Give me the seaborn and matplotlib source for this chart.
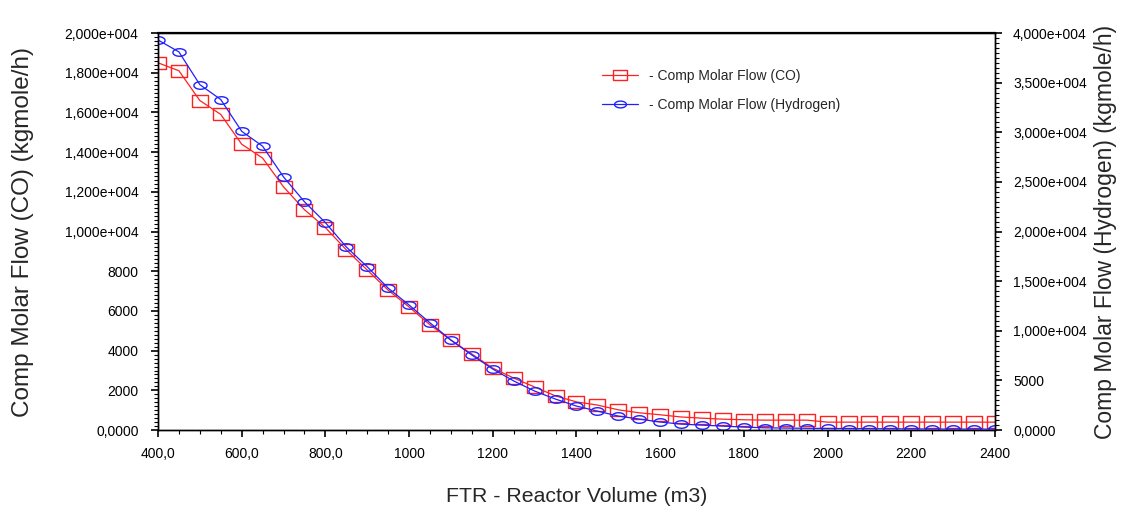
import numpy as np
import pandas as pd
import matplotlib
matplotlib.use("Agg")
import matplotlib.pyplot as plt
import matplotlib.ticker as mticker
import seaborn as sns

# Reactor volume (m3) and component molar flows (kgmole/h)
volume = [400, 450, 500, 550, 600, 650, 700, 750, 800, 850,
          900, 950, 1000, 1050, 1100, 1150, 1200, 1250, 1300, 1350,
          1400, 1450, 1500, 1550, 1600, 1650, 1700, 1750, 1800, 1850,
          1900, 1950, 2000, 2050, 2100, 2150, 2200, 2250, 2300, 2350, 2400]
co_flow = [18500, 18100, 16600, 15900, 14400, 13700, 12250, 11100, 10200, 9080,
           8060, 7050, 6200, 5300, 4530, 3830, 3120, 2620, 2170, 1720,
           1420, 1260, 1020, 870, 770, 660, 600, 550, 520, 500,
           500, 500, 400, 400, 400, 400, 400, 400, 400, 400, 400]
h2_flow = [39300, 38100, 34800, 33300, 30100, 28600, 25500, 23000, 20900, 18450,
           16450, 14300, 12600, 10800, 9070, 7560, 6150, 4950, 3930, 3120,
           2420, 1910, 1410, 1110, 810, 600, 500, 400, 300, 230,
           200, 180, 160, 150, 140, 130, 120, 110, 100, 100, 100]

left_ticks = [0, 2000, 4000, 6000, 8000, 10000, 12000, 14000, 16000, 18000, 20000]
left_labels = ["0,0000", "2000", "4000", "6000", "8000", "1,000e+004", "1,200e+004",
               "1,400e+004", "1,600e+004", "1,800e+004", "2,000e+004"]
right_ticks = [0, 5000, 10000, 15000, 20000, 25000, 30000, 35000, 40000]
right_labels = ["0,0000", "5000", "1,000e+004", "1,500e+004", "2,000e+004",
                "2,500e+004", "3,000e+004", "3,500e+004", "4,000e+004"]
x_ticks = [400, 600, 800, 1000, 1200, 1400, 1600, 1800, 2000, 2200, 2400]
x_labels = ["400,0", "600,0", "800,0", "1000", "1200", "1400", "1600",
            "1800", "2000", "2200", "2400"]

df = pd.DataFrame({"volume": volume, "co": co_flow, "h2": h2_flow})

sns.set_style("white")
plt.rcParams["font.family"] = ["Liberation Sans", "DejaVu Sans"]

# wide rectangle and flat ellipse markers like the simulator output
rect_marker = [(-1.35, -1), (1.35, -1), (1.35, 1), (-1.35, 1), (-1.35, -1)]
t = np.linspace(0, 2 * np.pi, 40)
ell_marker = list(zip(1.4 * np.cos(t), 0.8 * np.sin(t)))

fig = plt.figure(figsize=(11.22, 5.12), dpi=100)
ax = fig.add_axes([0.1408, 0.160, 0.7460, 0.7755])
ax2 = ax.twinx()

sns.lineplot(data=df, x="volume", y="co", ax=ax, color="#ff2020", lw=0.9,
             marker=rect_marker, markersize=11.5, markerfacecolor="none",
             markeredgecolor="#ff2020", markeredgewidth=1.0,
             label="- Comp Molar Flow (CO)", legend=False)
sns.lineplot(data=df, x="volume", y="h2", ax=ax2, color="#2020ff", lw=0.9,
             marker=ell_marker, markersize=9.5, markerfacecolor="none",
             markeredgecolor="#2020ff", markeredgewidth=1.0,
             label="- Comp Molar Flow (Hydrogen)", legend=False)

ax.set_xlim(400, 2400)
ax.set_ylim(0, 20000)
ax2.set_ylim(0, 40000)

ax.set_xticks(x_ticks)
ax.set_xticklabels(x_labels)
ax.set_yticks(left_ticks)
ax.set_yticklabels(left_labels)
ax2.set_yticks(right_ticks)
ax2.set_yticklabels(right_labels)
ax.xaxis.set_minor_locator(mticker.MultipleLocator(50))
ax.yaxis.set_minor_locator(mticker.MultipleLocator(200))
ax2.yaxis.set_minor_locator(mticker.MultipleLocator(500))

for a in (ax, ax2):
    for s in a.spines.values():
        s.set_color("black")
        s.set_linewidth(1.0)
    a.tick_params(which="major", direction="out", length=5, width=1.2,
                  labelsize=10, colors="black", pad=9)
    a.tick_params(which="minor", direction="out", length=3, width=0.8, colors="black")
ax.spines["top"].set_linewidth(1.6)
ax.tick_params(axis="y", which="both", left=True)
ax.tick_params(axis="x", which="both", bottom=True, pad=7)
ax2.tick_params(axis="y", which="both", right=True, pad=8)

ax.set_xlabel("FTR - Reactor Volume (m3)", fontsize=15.3, labelpad=19)
ax.set_ylabel("Comp Molar Flow (CO) (kgmole/h)", fontsize=17.5)
ax2.set_ylabel("Comp Molar Flow (Hydrogen) (kgmole/h)", fontsize=16.5, rotation=90)
ax.yaxis.set_label_coords(-0.148, 0.5)
ax2.yaxis.set_label_coords(1.118, 0.5)

h1, l1 = ax.get_legend_handles_labels()
h2, l2 = ax2.get_legend_handles_labels()
ax2.legend(h1 + h2, l1 + l2, loc="upper left", bbox_to_anchor=(0.515, 0.94),
           frameon=False, fontsize=10, handlelength=2.6, labelspacing=1.05,
           markerscale=0.9)

fig.savefig("out.png", dpi=100)
